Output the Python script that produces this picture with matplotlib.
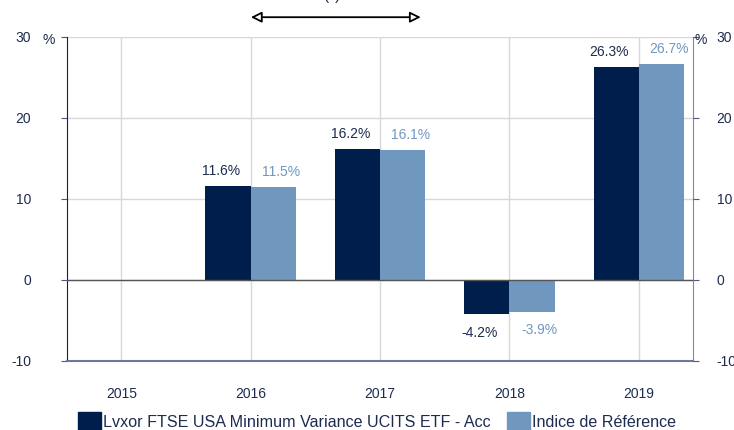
import numpy as np
import matplotlib.pyplot as plt
from matplotlib.patches import Patch

plt.rcParams['font.family'] = ['Liberation Sans', 'DejaVu Sans']
plt.rcParams['axes.unicode_minus'] = False

years = ['2015', '2016', '2017', '2018', '2019']
fund = [np.nan, 11.6, 16.2, -4.2, 26.3]
index = [np.nan, 11.5, 16.1, -3.9, 26.7]
fund_name = 'Lvxor FTSE USA Minimum Variance UCITS ETF - Acc'
index_name = 'Indice de Référence'

dark = '#001e4b'
light = '#7098bf'
txt = '#1c2b4f'

fig = plt.figure(figsize=(7.34, 4.30), dpi=100)
ax = fig.add_axes([0.0913, 0.1605, 0.853, 0.7535])

x = np.arange(len(years))
w = 0.35
ax.bar(x - w/2, fund, w, color=dark, zorder=3)
ax.bar(x + w/2, index, w, color=light, zorder=3)

# value labels, pushed a little outwards like the original
for i in range(len(years)):
    if np.isnan(fund[i]):
        continue
    for v, off, c in [(fund[i], -w/2 - 0.055, txt), (index[i], w/2 + 0.06, light)]:
        if v >= 0:
            ax.text(x[i] + off, v + 1.8, '%.1f%%' % v, ha='center', va='center', color=c, fontsize=10)
        else:
            ax.text(x[i] + off, v - 2.3, '%.1f%%' % v, ha='center', va='center', color=c, fontsize=10)

ax.set_xlim(-0.42, 4.42)
ax.set_ylim(-10, 30)
ax.set_yticks([-10, 0, 10, 20, 30])
ax.set_xticks(x)
ax.set_xticklabels(years)
ax.tick_params(axis='x', length=0, pad=19, labelsize=10, colors=txt)
ax.tick_params(axis='y', length=4, direction='out', labelsize=10, colors='#4a5a80', labelcolor=txt, pad=22)
ax.grid(True, color='#d8d8d8', lw=1, zorder=0)
ax.axhline(0, color='#555555', lw=1, zorder=4)

ax.spines['top'].set_visible(False)
ax.spines['left'].set_color('#222222')
ax.spines['right'].set_color('#888888')
ax.spines['bottom'].set_color('#6a7a9a')
ax.spines['bottom'].set_linewidth(1.5)

ax2 = ax.twinx()
ax2.set_ylim(-10, 30)
ax2.set_yticks([-10, 0, 10, 20, 30])
ax2.tick_params(axis='y', length=4, direction='out', labelsize=10, colors='#4a5a80', labelcolor=txt, pad=13)
for s in ['top', 'left', 'bottom', 'right']:
    ax2.spines[s].set_visible(False)

fig.text(0.058, 0.908, '%', color=txt, fontsize=10, ha='left', va='center')
fig.text(0.946, 0.908, '%', color=txt, fontsize=10, ha='left', va='center')

# period arrow at the top
ax.annotate('', xy=(0.577, 0.96), xytext=(0.338, 0.96), xycoords='figure fraction',
            arrowprops=dict(arrowstyle='<|-|>', color='black', lw=1.3, fc='white', mutation_scale=16))
fig.text(0.452, 1.01, '(*)', color=txt, fontsize=11, ha='center', va='center')

handles = [Patch(color=dark, label=fund_name), Patch(color=light, label=index_name)]
fig.legend(handles=handles, loc='lower center', bbox_to_anchor=(0.514, -0.035), ncol=2, frameon=False,
           fontsize=11.6, labelcolor=txt, handlelength=1.4, handleheight=1.4, handletextpad=0.15,
           columnspacing=1.0)

plt.savefig('out.png', dpi=100)
